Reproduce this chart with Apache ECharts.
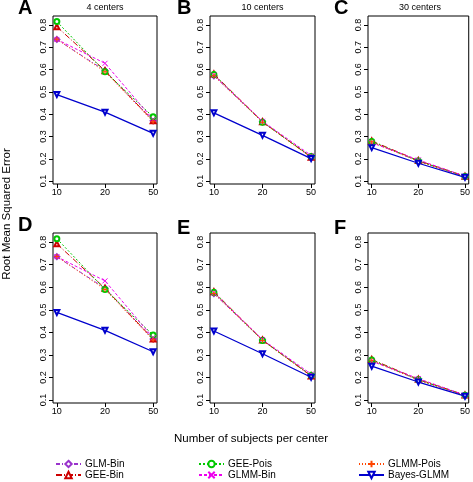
<!DOCTYPE html>
<html>
<head>
<meta charset="utf-8">
<script src="https://cdn.jsdelivr.net/npm/echarts@6/dist/echarts.min.js"></script>
<style>html,body{margin:0;padding:0;background:#fff}#c{width:473px;height:482px}</style>
</head>
<body>
<div id="c"></div>
<script>
// x categories (subjects per center)
const xCats = ['10', '20', '50'];
const yTicks = [0.1, 0.2, 0.3, 0.4, 0.5, 0.6, 0.7, 0.8];
const panelLetters = ['A', 'B', 'C', 'D', 'E', 'F'];
const panelTitles = ['4 centers', '10 centers', '30 centers', '', '', ''];
const seriesNames = ['GLM-Bin', 'GEE-Bin', 'GEE-Pois', 'GLMM-Bin', 'GLMM-Pois', 'Bayes-GLMM'];

// values per panel A..F, at 10, 20, 50 subjects
const glmBin   = [[0.735, 0.595, 0.370], [0.572, 0.366, 0.208], [0.275, 0.190, 0.120],
                  [0.735, 0.595, 0.370], [0.572, 0.366, 0.208], [0.275, 0.190, 0.120]];
const geeBin   = [[0.792, 0.595, 0.370], [0.580, 0.366, 0.207], [0.280, 0.192, 0.122],
                  [0.792, 0.595, 0.370], [0.580, 0.366, 0.207], [0.280, 0.192, 0.122]];
const geePois  = [[0.815, 0.590, 0.388], [0.578, 0.364, 0.210], [0.278, 0.190, 0.121],
                  [0.815, 0.590, 0.388], [0.578, 0.364, 0.210], [0.278, 0.190, 0.121]];
const glmmBin  = [[0.735, 0.628, 0.376], [0.575, 0.368, 0.215], [0.272, 0.195, 0.122],
                  [0.735, 0.628, 0.376], [0.575, 0.368, 0.215], [0.272, 0.195, 0.122]];
const glmmPois = [[0.736, 0.590, 0.366], [0.572, 0.364, 0.206], [0.276, 0.188, 0.120],
                  [0.736, 0.590, 0.366], [0.572, 0.364, 0.206], [0.276, 0.188, 0.120]];
const bayes    = [[0.488, 0.409, 0.314], [0.406, 0.305, 0.201], [0.250, 0.180, 0.117],
                  [0.488, 0.409, 0.314], [0.406, 0.305, 0.201], [0.250, 0.180, 0.117]];

const allData = [glmBin, geeBin, geePois, glmmBin, glmmPois, bayes];
const colors = ['#9932CC', '#CD0000', '#00C800', '#EE00EE', '#FF4500', '#0000CD'];
const symbols = ['emptyDiamond', 'emptyTriangle', 'emptyCircle',
  'path://M0,0L10,10M10,0L0,10', 'path://M5,0L5,10M0,5L10,5', 'emptyTriangle'];
const symRot = [0, 0, 0, 0, 0, 180];
const dashes = [[4, 2, 1, 2], [6, 2, 1, 2], [2, 2], [3, 2], [1, 2], 'solid'];
const lineW = [1, 1, 1, 1, 1, 1.3];

const FONT = 'Liberation Sans, Arial, Helvetica, sans-serif';
const gridLefts = [53, 210, 368];
const gridWidths = [104, 105, 104];
const gridTops = [16, 233];
const gridHeights = [168, 170];

const grids = [], xAxes = [], yAxes = [], series = [];
for (let p = 0; p < 6; p++) {
  const col = p % 3, row = Math.floor(p / 3);
  grids.push({
    left: gridLefts[col], top: gridTops[row], width: gridWidths[col], height: gridHeights[row],
    show: true, borderColor: '#000', borderWidth: 1, backgroundColor: 'transparent'
  });
  xAxes.push({
    type: 'value', gridIndex: p, min: 0.92, max: 3.08,
    axisLine: { show: false }, splitLine: { show: false },
    axisTick: { show: true, inside: false, length: 4, customValues: [1, 2, 3], lineStyle: { color: '#000' } },
    axisLabel: { customValues: [1, 2, 3], margin: 4, fontSize: 9, color: '#000', fontFamily: FONT,
      formatter: v => xCats[Math.round(v) - 1] }
  });
  yAxes.push({
    type: 'value', gridIndex: p, min: 0.087, max: 0.84,
    axisLine: { show: false }, splitLine: { show: false },
    axisTick: { show: true, inside: false, length: 4, customValues: yTicks, lineStyle: { color: '#000' } },
    axisLabel: { customValues: yTicks, rotate: 90, margin: 5, fontSize: 9, color: '#000', fontFamily: FONT,
      formatter: v => v.toFixed(1) }
  });
  for (let s = 0; s < 6; s++) {
    series.push({
      type: 'line', name: seriesNames[s], xAxisIndex: p, yAxisIndex: p,
      data: allData[s][p].map((v, i) => [i + 1, v]),
      symbol: symbols[s], symbolSize: 5, symbolRotate: symRot[s], showSymbol: true,
      lineStyle: { color: colors[s], width: lineW[s], type: dashes[s] },
      itemStyle: { color: colors[s], borderColor: colors[s], borderWidth: 1 },
      emphasis: { disabled: true }, animation: false, z: s === 5 ? 3 : 2
    });
  }
}

const titles = [];
const letterPos = [[18, -2], [177, -2], [334, -2], [18, 215], [177, 218], [334, 218]];
for (let p = 0; p < 6; p++) {
  titles.push({ text: panelLetters[p], left: letterPos[p][0], top: letterPos[p][1], padding: 0,
    textStyle: { fontSize: 20, fontWeight: 'bold', color: '#000', fontFamily: FONT } });
  if (panelTitles[p]) {
    const col = p % 3;
    titles.push({ text: panelTitles[p], left: gridLefts[col] + gridWidths[col] / 2, top: 3, padding: 0,
      textAlign: 'center',
      textStyle: { fontSize: 9, fontWeight: 'normal', color: '#000', fontFamily: FONT } });
  }
}
titles.push({ text: 'Number of subjects per center', left: 251, top: 433, padding: 0, textAlign: 'center',
  textStyle: { fontSize: 11.5, fontWeight: 'normal', color: '#000', fontFamily: FONT } });

const legendCols = [[55, ['GLM-Bin', 'GEE-Bin']], [198, ['GEE-Pois', 'GLMM-Bin']], [358, ['GLMM-Pois', 'Bayes-GLMM']]];
const legends = legendCols.map(([l, names]) => ({
  data: names, left: l, top: 459, orient: 'vertical', itemWidth: 25, itemHeight: 8, itemGap: 1,
  padding: 0, selectedMode: false,
  textStyle: { fontSize: 10, color: '#000', fontFamily: FONT, lineHeight: 10, padding: [0, 0, 0, -1] }
}));

const chart = echarts.init(document.getElementById('c'), null, { renderer: 'canvas' });
chart.setOption({
  animation: false,
  backgroundColor: '#fff',
  title: titles,
  legend: legends,
  grid: grids, xAxis: xAxes, yAxis: yAxes, series: series,
  graphic: [{
    type: 'text', x: 7, y: 214, rotation: Math.PI / 2,
    style: { text: 'Root Mean Squared Error', fontSize: 11.5, fill: '#000', fontFamily: FONT,
      align: 'center', verticalAlign: 'middle' }
  }]
});
</script>
</body>
</html>
